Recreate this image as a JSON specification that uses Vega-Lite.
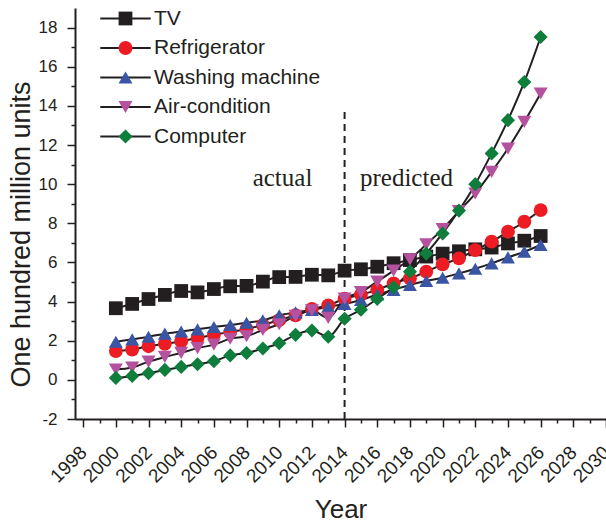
{
  "$schema": "https://vega.github.io/schema/vega-lite/v6.json",
  "width": 531,
  "height": 411,
  "autosize": {"type": "none"},
  "padding": {"left": 75, "top": 8, "right": 0, "bottom": 103},
  "background": "white",
  "config": {
    "view": {"stroke": null},
    "axis": {"grid": false, "domainColor": "#231f20", "tickColor": "#231f20", "labelColor": "#231f20", "titleColor": "#231f20", "labelFont": "Liberation Sans", "titleFont": "Liberation Sans", "titleFontWeight": "normal"},
    "legend": {"labelFont": "Liberation Sans", "labelColor": "#231f20"}
  },
  "datasets": {
    "sales": [
      {"series": "TV", "year": 2000, "value": 3.66}, {"series": "TV", "year": 2001, "value": 3.88}, {"series": "TV", "year": 2002, "value": 4.13}, {"series": "TV", "year": 2003, "value": 4.34}, {"series": "TV", "year": 2004, "value": 4.54}, {"series": "TV", "year": 2005, "value": 4.47}, {"series": "TV", "year": 2006, "value": 4.64}, {"series": "TV", "year": 2007, "value": 4.78}, {"series": "TV", "year": 2008, "value": 4.8}, {"series": "TV", "year": 2009, "value": 5.02}, {"series": "TV", "year": 2010, "value": 5.25}, {"series": "TV", "year": 2011, "value": 5.26}, {"series": "TV", "year": 2012, "value": 5.37}, {"series": "TV", "year": 2013, "value": 5.34}, {"series": "TV", "year": 2014, "value": 5.58}, {"series": "TV", "year": 2015, "value": 5.65}, {"series": "TV", "year": 2016, "value": 5.78}, {"series": "TV", "year": 2017, "value": 5.96}, {"series": "TV", "year": 2018, "value": 6.12}, {"series": "TV", "year": 2019, "value": 6.3}, {"series": "TV", "year": 2020, "value": 6.45}, {"series": "TV", "year": 2021, "value": 6.57}, {"series": "TV", "year": 2022, "value": 6.67}, {"series": "TV", "year": 2023, "value": 6.76}, {"series": "TV", "year": 2024, "value": 6.97}, {"series": "TV", "year": 2025, "value": 7.11}, {"series": "TV", "year": 2026, "value": 7.35},
      {"series": "Refrigerator", "year": 2000, "value": 1.47}, {"series": "Refrigerator", "year": 2001, "value": 1.55}, {"series": "Refrigerator", "year": 2002, "value": 1.72}, {"series": "Refrigerator", "year": 2003, "value": 1.84}, {"series": "Refrigerator", "year": 2004, "value": 1.97}, {"series": "Refrigerator", "year": 2005, "value": 2.14}, {"series": "Refrigerator", "year": 2006, "value": 2.3}, {"series": "Refrigerator", "year": 2007, "value": 2.45}, {"series": "Refrigerator", "year": 2008, "value": 2.6}, {"series": "Refrigerator", "year": 2009, "value": 2.8}, {"series": "Refrigerator", "year": 2010, "value": 3.05}, {"series": "Refrigerator", "year": 2011, "value": 3.3}, {"series": "Refrigerator", "year": 2012, "value": 3.62}, {"series": "Refrigerator", "year": 2013, "value": 3.8}, {"series": "Refrigerator", "year": 2014, "value": 4.15}, {"series": "Refrigerator", "year": 2015, "value": 4.35}, {"series": "Refrigerator", "year": 2016, "value": 4.6}, {"series": "Refrigerator", "year": 2017, "value": 4.93}, {"series": "Refrigerator", "year": 2018, "value": 5.19}, {"series": "Refrigerator", "year": 2019, "value": 5.53}, {"series": "Refrigerator", "year": 2020, "value": 5.9}, {"series": "Refrigerator", "year": 2021, "value": 6.21}, {"series": "Refrigerator", "year": 2022, "value": 6.63}, {"series": "Refrigerator", "year": 2023, "value": 7.06}, {"series": "Refrigerator", "year": 2024, "value": 7.57}, {"series": "Refrigerator", "year": 2025, "value": 8.08}, {"series": "Refrigerator", "year": 2026, "value": 8.67},
      {"series": "Washing machine", "year": 2000, "value": 1.95}, {"series": "Washing machine", "year": 2001, "value": 2.07}, {"series": "Washing machine", "year": 2002, "value": 2.2}, {"series": "Washing machine", "year": 2003, "value": 2.36}, {"series": "Washing machine", "year": 2004, "value": 2.47}, {"series": "Washing machine", "year": 2005, "value": 2.58}, {"series": "Washing machine", "year": 2006, "value": 2.7}, {"series": "Washing machine", "year": 2007, "value": 2.8}, {"series": "Washing machine", "year": 2008, "value": 2.92}, {"series": "Washing machine", "year": 2009, "value": 3.04}, {"series": "Washing machine", "year": 2010, "value": 3.3}, {"series": "Washing machine", "year": 2011, "value": 3.45}, {"series": "Washing machine", "year": 2012, "value": 3.57}, {"series": "Washing machine", "year": 2013, "value": 3.74}, {"series": "Washing machine", "year": 2014, "value": 3.88}, {"series": "Washing machine", "year": 2015, "value": 4.08}, {"series": "Washing machine", "year": 2016, "value": 4.36}, {"series": "Washing machine", "year": 2017, "value": 4.6}, {"series": "Washing machine", "year": 2018, "value": 4.85}, {"series": "Washing machine", "year": 2019, "value": 5.05}, {"series": "Washing machine", "year": 2020, "value": 5.22}, {"series": "Washing machine", "year": 2021, "value": 5.44}, {"series": "Washing machine", "year": 2022, "value": 5.68}, {"series": "Washing machine", "year": 2023, "value": 5.95}, {"series": "Washing machine", "year": 2024, "value": 6.26}, {"series": "Washing machine", "year": 2025, "value": 6.55}, {"series": "Washing machine", "year": 2026, "value": 6.89},
      {"series": "Air-condition", "year": 2000, "value": 0.53}, {"series": "Air-condition", "year": 2001, "value": 0.63}, {"series": "Air-condition", "year": 2002, "value": 0.93}, {"series": "Air-condition", "year": 2003, "value": 1.17}, {"series": "Air-condition", "year": 2004, "value": 1.38}, {"series": "Air-condition", "year": 2005, "value": 1.62}, {"series": "Air-condition", "year": 2006, "value": 1.8}, {"series": "Air-condition", "year": 2007, "value": 2.1}, {"series": "Air-condition", "year": 2008, "value": 2.23}, {"series": "Air-condition", "year": 2009, "value": 2.55}, {"series": "Air-condition", "year": 2010, "value": 2.84}, {"series": "Air-condition", "year": 2011, "value": 3.27}, {"series": "Air-condition", "year": 2012, "value": 3.55}, {"series": "Air-condition", "year": 2013, "value": 3.17}, {"series": "Air-condition", "year": 2014, "value": 4.15}, {"series": "Air-condition", "year": 2015, "value": 4.48}, {"series": "Air-condition", "year": 2016, "value": 5.02}, {"series": "Air-condition", "year": 2017, "value": 5.58}, {"series": "Air-condition", "year": 2018, "value": 6.16}, {"series": "Air-condition", "year": 2019, "value": 6.92}, {"series": "Air-condition", "year": 2020, "value": 7.7}, {"series": "Air-condition", "year": 2021, "value": 8.62}, {"series": "Air-condition", "year": 2022, "value": 9.52}, {"series": "Air-condition", "year": 2023, "value": 10.63}, {"series": "Air-condition", "year": 2024, "value": 11.82}, {"series": "Air-condition", "year": 2025, "value": 13.18}, {"series": "Air-condition", "year": 2026, "value": 14.63},
      {"series": "Computer", "year": 2000, "value": 0.1}, {"series": "Computer", "year": 2001, "value": 0.2}, {"series": "Computer", "year": 2002, "value": 0.34}, {"series": "Computer", "year": 2003, "value": 0.51}, {"series": "Computer", "year": 2004, "value": 0.66}, {"series": "Computer", "year": 2005, "value": 0.8}, {"series": "Computer", "year": 2006, "value": 0.95}, {"series": "Computer", "year": 2007, "value": 1.25}, {"series": "Computer", "year": 2008, "value": 1.37}, {"series": "Computer", "year": 2009, "value": 1.6}, {"series": "Computer", "year": 2010, "value": 1.87}, {"series": "Computer", "year": 2011, "value": 2.3}, {"series": "Computer", "year": 2012, "value": 2.52}, {"series": "Computer", "year": 2013, "value": 2.2}, {"series": "Computer", "year": 2014, "value": 3.12}, {"series": "Computer", "year": 2015, "value": 3.58}, {"series": "Computer", "year": 2016, "value": 4.14}, {"series": "Computer", "year": 2017, "value": 4.73}, {"series": "Computer", "year": 2018, "value": 5.53}, {"series": "Computer", "year": 2019, "value": 6.45}, {"series": "Computer", "year": 2020, "value": 7.48}, {"series": "Computer", "year": 2021, "value": 8.65}, {"series": "Computer", "year": 2022, "value": 10.0}, {"series": "Computer", "year": 2023, "value": 11.57}, {"series": "Computer", "year": 2024, "value": 13.27}, {"series": "Computer", "year": 2025, "value": 15.22}, {"series": "Computer", "year": 2026, "value": 17.52}
    ]
  },
  "layer": [
    {
      "data": {"values": [{"year": 2014, "lo": -2, "hi": 13.7}]},
      "mark": {"type": "rule", "strokeDash": [7, 5], "strokeWidth": 2, "color": "#231f20"},
      "encoding": {
        "x": {"field": "year", "type": "quantitative", "scale": {"domain": [1997.5, 2030], "nice": false, "zero": false},
              "axis": {"orient": "bottom", "values": [1999, 2001, 2003, 2005, 2007, 2009, 2011, 2013, 2015, 2017, 2019, 2021, 2023, 2025, 2027, 2029], "tickSize": 4, "tickWidth": 1.5, "labels": false, "domain": false, "title": null}},
        "y": {"field": "lo", "type": "quantitative", "scale": {"domain": [-2, 19], "nice": false, "zero": false},
              "axis": {"orient": "left", "values": [-1, 1, 3, 5, 7, 9, 11, 13, 15, 17], "tickSize": 4, "tickWidth": 1.5, "labels": false, "domain": false, "title": null}},
        "y2": {"field": "hi"}
      }
    },
    {
      "data": {"name": "sales"},
      "mark": {"type": "line", "interpolate": "monotone", "strokeWidth": 2},
      "encoding": {
        "x": {"field": "year", "type": "quantitative",
              "axis": {"orient": "bottom", "values": [1998, 2000, 2002, 2004, 2006, 2008, 2010, 2012, 2014, 2016, 2018, 2020, 2022, 2024, 2026, 2028, 2030], "tickSize": 8, "tickWidth": 1.5, "domainWidth": 2, "labelAngle": -45, "labelAlign": "right", "labelBaseline": "middle", "labelFontSize": 19, "labelPadding": 22, "labelExpr": "'' + datum.value", "labelFlush": false, "labelOverlap": false, "labelBound": false, "title": "Year", "titleFontSize": 26, "titleY": 98, "titleBaseline": "alphabetic"}},
        "y": {"field": "value", "type": "quantitative",
              "axis": {"orient": "left", "values": [-2, 0, 2, 4, 6, 8, 10, 12, 14, 16, 18], "tickSize": 8, "tickWidth": 1.5, "domainWidth": 2, "labelFontSize": 17, "labelPadding": 10, "labelExpr": "'' + datum.value", "labelFlush": false, "labelOverlap": false, "labelBound": false, "title": "One hundred million units", "titleFontSize": 27, "titleX": -54, "titleY": 226, "titleBaseline": "middle", "titleAlign": "center", "titleAngle": -90}},
        "color": {"field": "series", "type": "nominal",
                  "scale": {"domain": ["TV", "Refrigerator", "Washing machine", "Air-condition", "Computer"], "range": ["#231f20", "#231f20", "#231f20", "#231f20", "#231f20"]},
                  "legend": {"orient": "none", "legendX": 40, "legendY": 0, "title": null, "padding": 0, "symbolType": "M-3.4,0L3.4,0", "symbolSize": 220, "symbolStrokeWidth": 2, "symbolStrokeColor": "#231f20", "labelOpacity": 0, "labelFontSize": 21, "labelOffset": 18, "labelLimit": 300, "rowPadding": 7.5}}
      }
    },
    {
      "data": {"name": "sales"},
      "mark": {"type": "point", "filled": true, "opacity": 1, "strokeWidth": 0},
      "encoding": {
        "x": {"field": "year", "type": "quantitative", "axis": null},
        "y": {"field": "value", "type": "quantitative", "axis": null},
        "color": {"field": "series", "type": "nominal",
                  "scale": {"domain": ["TV", "Refrigerator", "Washing machine", "Air-condition", "Computer"], "range": ["#231f20", "#ed1c24", "#3a55a4", "#b5529f", "#0f7d3c"]},
                  "legend": {"orient": "none", "legendX": 40, "legendY": 0, "title": null, "padding": 0, "symbolSize": 220, "symbolStrokeWidth": 0, "symbolOpacity": 1, "labelFontSize": 21, "labelOffset": 18, "labelLimit": 300, "rowPadding": 7.5}},
        "shape": {"field": "series", "type": "nominal",
                  "scale": {"domain": ["TV", "Refrigerator", "Washing machine", "Air-condition", "Computer"], "range": ["square", "circle", "triangle-up", "triangle-down", "diamond"]},
                  "legend": {"orient": "none", "legendX": 40, "legendY": 0, "title": null, "padding": 0, "symbolSize": 220, "symbolStrokeWidth": 0, "symbolOpacity": 1, "labelFontSize": 21, "labelOffset": 18, "labelLimit": 300, "rowPadding": 7.5}},
        "size": {"field": "series", "type": "nominal", "legend": null,
                 "scale": {"domain": ["TV", "Refrigerator", "Washing machine", "Air-condition", "Computer"], "range": [190, 200, 310, 310, 320]}}
      }
    },
    {
      "data": {"values": [{"year": 2010.2, "value": 9.88, "label": "actual"}, {"year": 2017.79, "value": 9.88, "label": "predicted"}]},
      "mark": {"type": "text", "font": "Liberation Serif", "fontSize": 25, "color": "#231f20", "baseline": "alphabetic", "align": "center"},
      "encoding": {
        "x": {"field": "year", "type": "quantitative", "axis": null},
        "y": {"field": "value", "type": "quantitative", "axis": null},
        "text": {"field": "label"}
      }
    }
  ],
  "resolve": {"scale": {"color": "independent", "shape": "independent", "size": "independent"}, "axis": {"x": "independent", "y": "independent"}}
}
